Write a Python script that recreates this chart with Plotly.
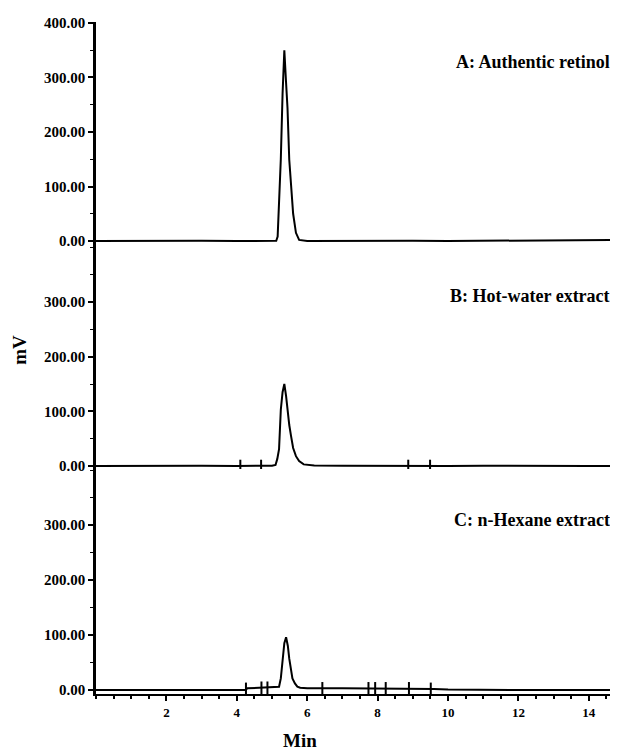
import plotly.graph_objects as go

# ---------------- data ----------------
# Panel A: authentic retinol
time_a = [0, 1, 2, 3, 4, 4.5, 5.0, 5.12, 5.16, 5.2, 5.25, 5.3, 5.35, 5.4, 5.44, 5.49,
          5.54, 5.6, 5.68, 5.77, 6.0, 7, 8, 9, 10, 11, 12, 13, 14, 14.8]
mv_a = [0, 0.5, 0, 0.5, 0, 0.5, 0, 0.5, 8, 60, 150, 270, 350, 290, 244, 149,
        94, 50, 15, 2, 0, 0.5, 0, 0.5, 0, 0.5, 0, 0.5, 1, 2]

# Panel B: hot-water extract
time_b = [0, 1, 2, 3, 4, 4.5, 5.0, 5.1, 5.15, 5.2, 5.25, 5.3, 5.35, 5.4, 5.44, 5.49,
          5.54, 5.6, 5.68, 5.77, 5.9, 6.2, 7, 8, 9, 10, 11, 12, 13, 14, 14.8]
mv_b = [0, 0.5, 0, 0.5, 0, 0.5, 0.5, 2, 13, 31, 103, 135, 150, 128, 103, 75,
        55, 33, 18, 9, 3, 1, 0.5, 0, 0.5, 0, 0.5, 0, 0.5, 0, 0]
marks_b_t = [4.1, 4.69, 8.87, 9.49]
marks_b_v = [0, 0, 0, 0]

# Panel C: n-hexane extract
time_c = [0, 1, 2, 3, 4, 4.25, 4.3, 4.6, 5.0, 5.2, 5.25, 5.3, 5.35, 5.4, 5.45, 5.49,
          5.54, 5.58, 5.65, 5.72, 5.8, 6.0, 7, 8, 9, 9.6, 10, 11, 12, 13, 14, 14.8]
mv_c = [0, 0, 0, 0, 0, 0, 3, 4, 4, 6, 21, 57, 85, 96, 80, 57,
        35, 21, 12, 6, 4, 3, 3, 3, 3, 2, 1, 0, 0, 0, 0, 0]
marks_c_t = [4.26, 4.70, 4.87, 6.43, 7.74, 7.93, 8.23, 8.89, 9.51]
marks_c_v = [2, 4, 4, 3, 3, 3, 3, 3, 2]

panel_labels = ["A: Authentic retinol", "B: Hot-water extract", "C: n-Hexane extract"]
x_ticks = [2, 4, 6, 8, 10, 12, 14]
y_ticks_a = [0, 100, 200, 300, 400]
y_ticks_bc = [0, 100, 200, 300]

# ---------------- figure ----------------
FONT = "Liberation Serif"
fig = go.Figure()

line_style = dict(color="black", width=2)
fig.add_trace(go.Scatter(x=time_a, y=mv_a, mode="lines", line=line_style,
                         xaxis="x", yaxis="y", showlegend=False))
fig.add_trace(go.Scatter(x=time_b, y=mv_b, mode="lines", line=line_style,
                         xaxis="x", yaxis="y2", showlegend=False))
fig.add_trace(go.Scatter(x=time_c, y=mv_c, mode="lines", line=line_style,
                         xaxis="x", yaxis="y3", showlegend=False))
mark_style = dict(symbol="line-ns", size=9, line=dict(color="black", width=2))
fig.add_trace(go.Scatter(x=marks_b_t, y=marks_b_v, mode="markers", marker=mark_style,
                         xaxis="x", yaxis="y2", showlegend=False))
fig.add_trace(go.Scatter(x=marks_c_t, y=marks_c_v, mode="markers", marker=mark_style,
                         xaxis="x", yaxis="y3", showlegend=False))

ytickfont = dict(family=FONT, size=15, color="black", weight="bold")
xtickfont = dict(family=FONT, size=13, color="black", weight="bold")
ycommon = dict(showline=True, linecolor="black", linewidth=2.5, ticks="outside",
               ticklen=5, tickwidth=1.5, tickcolor="black", tickformat=".2f",
               tickfont=ytickfont, showgrid=False, zeroline=False, anchor="x",
               minor=dict(ticks="outside", ticklen=3, tickcolor="black", dtick=50, tickwidth=1.2))

# the page adds an 8 px body margin, so the figure is 8 px smaller on each side
fig.update_layout(
    width=610, height=746,
    margin=dict(l=88, r=1, t=14, b=60),
    plot_bgcolor="white", paper_bgcolor="white",
    xaxis=dict(range=[0, 14.8], tickvals=x_ticks, ticks="outside", ticklen=5,
               tickwidth=1.5, tickcolor="black", showline=True, linecolor="black",
               linewidth=2, tickfont=xtickfont, showgrid=False, zeroline=False,
               anchor="y3",
               minor=dict(ticks="outside", ticklen=3, tickcolor="black", dtick=0.5)),
    yaxis=dict(domain=[0.6711, 1.0], range=[-3.67, 401.8], tickvals=y_ticks_a, **ycommon),
    yaxis2=dict(domain=[0.3348, 0.6711], range=[-5.5, 407.9], tickvals=y_ticks_bc, **ycommon),
    yaxis3=dict(domain=[0.0, 0.3348], range=[-7.3, 401.8], tickvals=y_ticks_bc, **ycommon),
)

label_y = [0.9405, 0.5923, 0.2589]
for txt, yy in zip(panel_labels, label_y):
    fig.add_annotation(text=txt, x=0.99, y=yy, xref="paper", yref="paper",
                       xanchor="right", yanchor="middle", showarrow=False,
                       font=dict(family=FONT, size=18, color="black", weight="bold"))

fig.add_annotation(text="mV", x=-0.146, y=0.512, xref="paper", yref="paper",
                   textangle=-90, showarrow=False, xanchor="center", yanchor="middle",
                   font=dict(family=FONT, size=19, color="black", weight="bold"))
fig.add_annotation(text="Min", x=0.392, y=-0.0685, xref="paper", yref="paper",
                   showarrow=False, xanchor="center", yanchor="middle",
                   font=dict(family=FONT, size=19, color="black", weight="bold"))

fig.write_html("out.html")
